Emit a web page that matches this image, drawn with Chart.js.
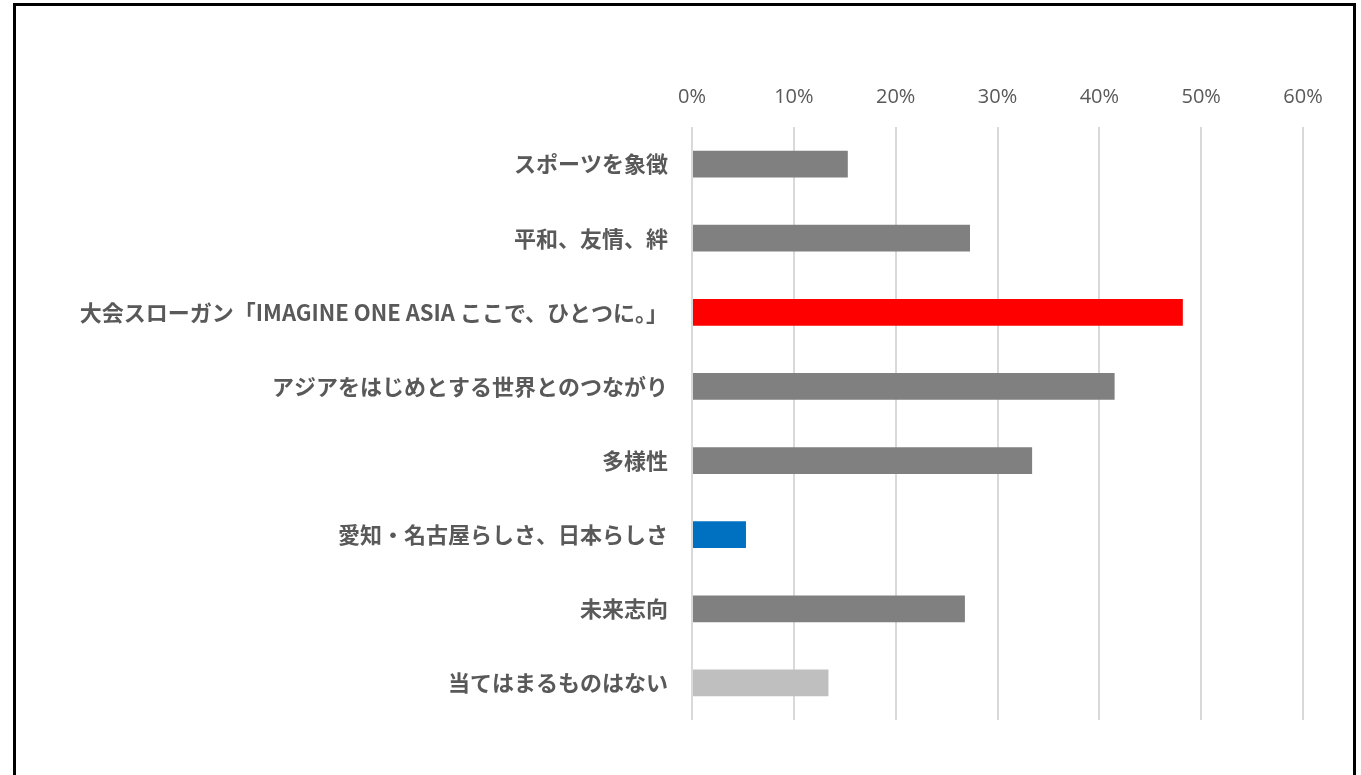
<!DOCTYPE html>
<html>
<head>
    <meta charset="utf-8">
    <title>Chart</title>
    <script src="https://cdn.jsdelivr.net/npm/chart.js"></script>
    <style>
        body { margin: 0; background: #fff; }
        #wrap { position: relative; width: 1361px; height: 775px; overflow: hidden; }
        #frame {
            position: absolute; left: 13px; top: 3px; width: 1343px; height: 800px;
            border: 3px solid #000; box-sizing: border-box; pointer-events: none;
        }
    </style>
</head>
<body>
    <div id="wrap">
        <canvas id="barChart" width="1361" height="775"></canvas>
        <div id="frame"></div>
    </div>

    <script>
        // Dati
        const categories = [
            'スポーツを象徴',
            '平和、友情、絆',
            '大会スローガン「IMAGINE ONE ASIA ここで、ひとつに。」',
            'アジアをはじめとする世界とのつながり',
            '多様性',
            '愛知・名古屋らしさ、日本らしさ',
            '未来志向',
            '当てはまるものはない'
        ];
        const values = [15.3, 27.3, 48.2, 41.5, 33.4, 5.3, 26.8, 13.4];
        const barColors = ['#808080', '#808080', '#FF0000', '#808080', '#808080', '#0070C0', '#808080', '#BFBFBF'];
        const tickValues = [0, 10, 20, 30, 40, 50, 60];

        const ctx = document.getElementById('barChart').getContext('2d');
        const chart = new Chart(ctx, {
            type: 'bar',
            data: {
                labels: categories,
                datasets: [{
                    data: values,
                    backgroundColor: barColors,
                    barPercentage: 0.36,
                    categoryPercentage: 1
                }]
            },
            options: {
                indexAxis: 'y',
                responsive: false,
                animation: false,
                layout: { padding: { left: 0, right: 58, top: 0, bottom: 55 } },
                plugins: { legend: { display: false }, tooltip: { enabled: false } },
                scales: {
                    x: {
                        position: 'top',
                        min: 0,
                        max: 60,
                        afterBuildTicks: (scale) => { scale.ticks = tickValues.map(v => ({ value: v })); },
                        afterFit: (scale) => { scale.height = 127; },
                        grid: { color: '#D9D9D9', lineWidth: 2, drawTicks: false },
                        border: { display: false },
                        ticks: {
                            padding: 18,
                            color: '#595959',
                            font: { family: 'Open Sans', size: 20 },
                            callback: (v) => v + '%'
                        }
                    },
                    y: {
                        afterFit: (scale) => { scale.width = 692; },
                        grid: { display: false, drawTicks: false },
                        border: { display: false },
                        ticks: {
                            padding: 24,
                            color: '#595959',
                            font: { family: 'Noto Sans CJK JP', size: 22, weight: 'bold' }
                        }
                    }
                }
            }
        });
    </script>
</body>
</html>
